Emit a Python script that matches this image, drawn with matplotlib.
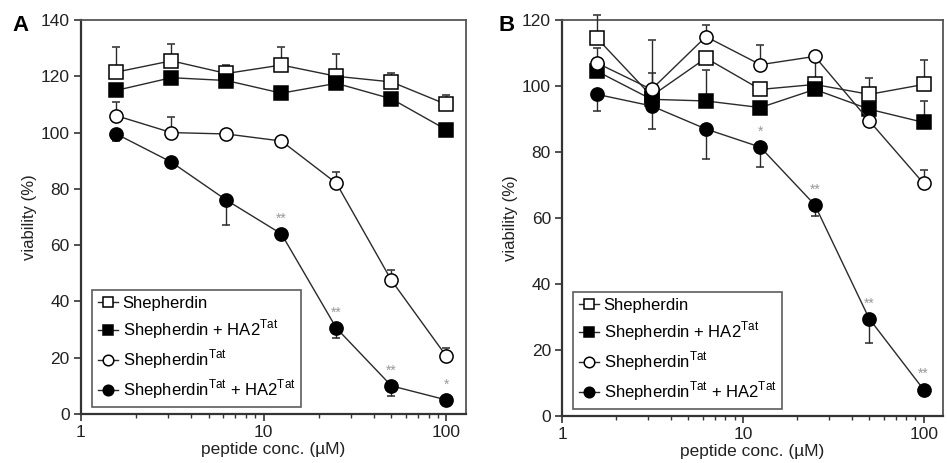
import matplotlib
matplotlib.use("Agg")
import matplotlib.pyplot as plt
from matplotlib.ticker import FixedLocator, NullFormatter, LogLocator

plt.rcParams['font.family'] = ['Liberation Sans', 'DejaVu Sans']
plt.rcParams['mathtext.fontset'] = 'custom'
plt.rcParams['mathtext.rm'] = 'Liberation Sans'

# ---------------- data ----------------
conc = [1.5625, 3.125, 6.25, 12.5, 25, 50, 100]
labels = ['Shepherdin', 'Shepherdin + HA2$^{\\rm Tat}$',
          'Shepherdin$^{\\rm Tat}$', 'Shepherdin$^{\\rm Tat}$ + HA2$^{\\rm Tat}$']

# Panel A
A_shep = [121.5, 125.5, 121, 124, 120, 118, 110]
A_shep_up = [9, 6, 3, 6.5, 8, 3, 3.5]
A_shepHA = [115, 119.5, 118.5, 114, 117.5, 112, 101]
A_shepHA_up = [0, 0, 0, 0, 0, 0, 2]
A_tat = [106, 100, 99.5, 97, 82, 47.5, 20.5]
A_tat_up = [5, 5.5, 0, 0, 4, 3.5, 3]
A_tatHA = [99.5, 89.5, 76, 64, 30.5, 10, 5]
A_tatHA_dn = [2.5, 0, 9, 0, 3.5, 3.5, 0]
A_stars = ['', '', '', '**', '**', '**', '*']

# Panel B
B_shep = [114.5, 97, 108.5, 99, 100.5, 97.5, 100.5]
B_shep_up = [7, 17, 0, 0, 8, 5, 7.5]
B_shepHA = [104.5, 96, 95.5, 93.5, 99, 93, 89]
B_shepHA_up = [0, 8, 9.5, 0, 0, 0, 6.5]
B_tat = [107, 99, 115, 106.5, 109, 89.5, 70.5]
B_tat_up = [4.5, 0, 3.5, 6, 0, 0, 4]
B_tatHA = [97.5, 94, 87, 81.5, 64, 29.5, 8]
B_tatHA_dn = [5, 7, 9, 6, 3.5, 7.5, 0]
B_stars = ['', '', '', '*', '**', '**', '**']

A_yticks = [0, 20, 40, 60, 80, 100, 120, 140]
B_yticks = [0, 20, 40, 60, 80, 100, 120]
x_ticks = [1, 10, 100]

# ---------------- figure ----------------
fig = plt.figure(figsize=(9.47, 4.63), dpi=100)
axA = fig.add_axes([0.0855, 0.1058, 0.4066, 0.851])
axB = fig.add_axes([0.5935, 0.1015, 0.4023, 0.855])

LC = '#2a2a2a'
MS = 9.5
FS = 12.5


def draw(ax, shep, shep_up, shepHA, shepHA_up, tat, tat_up, tatHA, tatHA_dn, stars,
         ymax, yticks, letter, lx):
    zeros = [0] * len(conc)
    series = [
        (shep, [zeros, shep_up], 's', 'white'),
        (shepHA, [zeros, shepHA_up], 's', 'black'),
        (tat, [zeros, tat_up], 'o', 'white'),
        (tatHA, [tatHA_dn, zeros], 'o', 'black'),
    ]
    handles = []
    for (y, err, m, fc), lab in zip(series, labels):
        eb = ax.errorbar(conc, y, yerr=err, fmt='-' + m, color=LC, lw=1.0,
                         ms=MS, mfc=fc, mec='black', mew=1.1, ecolor=LC,
                         elinewidth=1.0, capsize=3, capthick=1.0, label=lab,
                         clip_on=False, zorder=3)
        handles.append(eb[0])
    for xv, yv, s in zip(conc, tatHA, stars):
        if s:
            ax.annotate(s, (xv, yv), xytext=(0, 6), textcoords='offset points',
                        ha='center', va='bottom', fontsize=10, color='#999999')
    ax.set_xscale('log')
    ax.set_xlim(1, 128)
    ax.set_ylim(0, ymax)
    ax.set_yticks(yticks)
    ax.xaxis.set_major_locator(FixedLocator(x_ticks))
    ax.set_xticklabels([str(t) for t in x_ticks])
    ax.xaxis.set_minor_locator(LogLocator(base=10, subs=range(2, 10), numticks=20))
    ax.xaxis.set_minor_formatter(NullFormatter())
    ax.tick_params(axis='both', which='major', direction='out', length=5, width=1.2,
                   labelsize=FS, color='#333333', labelcolor='#222222', pad=3)
    ax.tick_params(axis='x', which='minor', direction='out', length=3, width=1.0,
                   color='#333333')
    for side in ['left', 'bottom']:
        ax.spines[side].set_linewidth(1.6)
        ax.spines[side].set_color('#333333')
    for side in ['top', 'right']:
        ax.spines[side].set_linewidth(1.3)
        ax.spines[side].set_color('#555555')
    ax.set_xlabel('peptide conc. (\u00b5M)', fontsize=FS, labelpad=1, color='#222222')
    ax.set_ylabel('viability (%)', fontsize=FS - 0.5, labelpad=3, color='#222222')
    leg = ax.legend(handles=handles, labels=labels, loc='lower left',
                    bbox_to_anchor=(0.028, 0.018), borderaxespad=0, fontsize=12,
                    frameon=True, fancybox=False, edgecolor='#333333',
                    handlelength=1.2, handletextpad=0.3, labelspacing=0.38,
                    borderpad=0.35, markerscale=0.8)
    leg.get_frame().set_linewidth(1.2)
    ax.text(lx, 0.987, letter, transform=ax.transAxes, fontsize=16,
            fontweight='bold', ha='left', va='center')


draw(axA, A_shep, A_shep_up, A_shepHA, A_shepHA_up, A_tat, A_tat_up, A_tatHA,
     A_tatHA_dn, A_stars, 140, A_yticks, 'A', -0.179)
draw(axB, B_shep, B_shep_up, B_shepHA, B_shepHA_up, B_tat, B_tat_up, B_tatHA,
     B_tatHA_dn, B_stars, 120, B_yticks, 'B', -0.168)

fig.savefig('out.png', dpi=100)
